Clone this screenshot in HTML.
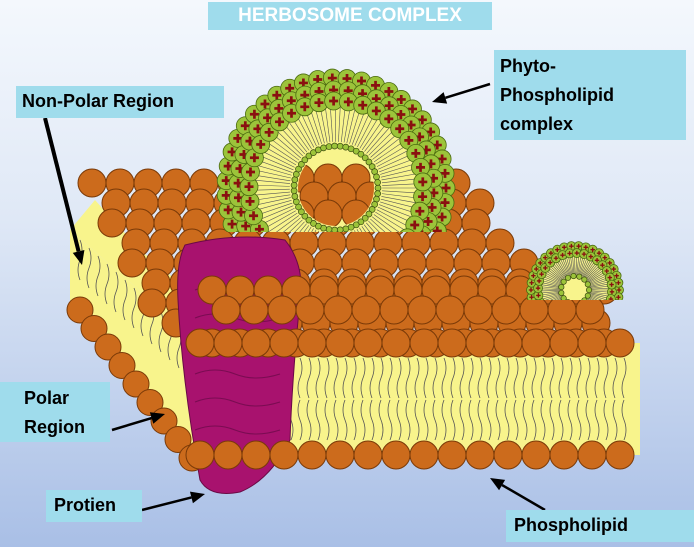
<!DOCTYPE html>
<html><head><meta charset="utf-8"><style>
html,body{margin:0;padding:0}
body{width:694px;height:547px;overflow:hidden;background:linear-gradient(#f4f8fd 0%,#dfe8f6 40%,#a9bfe6 100%);position:relative;font-family:"Liberation Sans",sans-serif}
.lab{position:absolute;background:#9fdcec;color:#000;font-weight:bold;font-size:18px;line-height:30px;padding-left:6px;box-sizing:border-box}
svg{position:absolute;left:0;top:0}
</style></head><body>
<svg id="s" width="694" height="547" viewBox="0 0 694 547"></svg>
<div class="lab" style="left:208px;top:2px;width:284px;height:28px;color:#fff;font-size:19px;line-height:28px;text-align:center;padding:0">HERBOSOME COMPLEX</div>
<div class="lab" style="left:16px;top:86px;width:208px;height:32px">Non-Polar Region</div>
<div class="lab" style="left:494px;top:50px;width:192px;height:90px;line-height:29px;padding-top:2px">Phyto-<br>Phospholipid<br>complex</div>
<div class="lab" style="left:0;top:382px;width:110px;height:60px;line-height:29px;padding-left:24px;padding-top:2px">Polar<br>Region</div>
<div class="lab" style="left:46px;top:490px;width:96px;height:32px;padding-left:8px">Protien</div>
<div class="lab" style="left:506px;top:510px;width:188px;height:32px;padding-left:8px">Phospholipid</div>
<script>
const s=document.getElementById('s');let h='';
const C=(x,y,r)=>h+=`<circle cx="${x}" cy="${y}" r="${r}" fill="#cc6b1c" stroke="#7a3a08" stroke-width="1"/>`;
h+='<polygon points="70,230 200,343 640,343 640,455 200,455 70,300" fill="#f8f48c"/>';
h+='<polygon points="70,230 95,200 140,250 200,300 200,343" fill="#f8f48c"/>';
for(let x=210;x<630;x+=9){h+=`<path d="M${x} 358 q4 10 0 20 q-4 10 0 20 M${x} 440 q4 -10 0 -20 q-4 -10 0 -20" stroke="#555" stroke-width="0.8" fill="none"/>`;}
for(let i=0;i<14;i++){let x=80+i*9,y=240+i*8;h+=`<path d="M${x} ${y} q4 10 0 20 q-4 10 0 20" stroke="#555" stroke-width="0.8" fill="none"/>`;}
for(let r=0;r<8;r++){let y=183+r*20;let x0=92+r*10+(r%2)*14,x1=470+r*14;
 if(r>=5)x1=560+(r-5)*20;
 for(let x=x0;x<=x1;x+=28)C(x,y,14);}
for(let i=0;i<9;i++)C(80+i*14,310+i*18.5,13);
h+='<path d="M185 245 Q235 232 285 240 Q305 265 300 300 Q292 380 290 440 Q270 480 240 492 Q210 498 200 480 Q182 380 178 300 Q176 262 185 245Z" fill="#a8126e" stroke="#6a0a45"/>';
for(let i=0;i<6;i++){let y=290+i*28;h+=`<path d="M195 ${y} q20 -8 40 0 q20 8 45 0" stroke="#7a0c52" fill="none"/>`}
for(let r=0;r<3;r++){let y=290+r*20+(r==2?13:0);for(let x=212+(r%2)*14;x<=610;x+=28)C(x,y,14);}
for(let x=200;x<=625;x+=28)C(x,343,14);
for(let x=200;x<=625;x+=28)C(x,455,14);
function ves(cx,cy,R,ri,sz,ls,clip){let g=`<g clip-path="url(#${clip})">`;
 g+=`<circle cx="${cx}" cy="${cy}" r="${R-sz}" fill="#f8f48c"/>`;
 for(let a=0;a<360;a+=3.5){let t=a*Math.PI/180;g+=`<line x1="${cx+Math.cos(t)*ri*1.1}" y1="${cy+Math.sin(t)*ri*1.1}" x2="${cx+Math.cos(t)*(R-sz*2)}" y2="${cy+Math.sin(t)*(R-sz*2)}" stroke="#555" stroke-width="0.6"/>`;}
 ls.forEach((rr,L)=>{let n=Math.floor(2*Math.PI*rr/(sz*1.6));for(let k=0;k<n;k++){let t=k/n*2*Math.PI+L*0.05;let x=cx+Math.cos(t)*rr,y=cy+Math.sin(t)*rr;g+=`<circle cx="${x}" cy="${y}" r="${sz}" fill="#9cc43a" stroke="#4a6a10" stroke-width="0.8"/><path d="M${x-sz*.5} ${y}h${sz}M${x} ${y-sz*.5}v${sz}" stroke="#8a1010" stroke-width="${sz*0.3}"/>`;}});
 let n2=Math.floor(2*Math.PI*ri/5.5);for(let k=0;k<n2;k++){let t=k/n2*2*Math.PI;g+=`<circle cx="${cx+Math.cos(t)*ri}" cy="${cy+Math.sin(t)*ri}" r="${Math.min(3,sz*0.6)}" fill="#9cc43a" stroke="#3a4a10" stroke-width="0.7"/>`;}
 return g+'</g>';}
h+='<defs><clipPath id="c1"><rect x="0" y="0" width="694" height="232"/></clipPath><clipPath id="c2"><rect x="0" y="0" width="694" height="300"/></clipPath><clipPath id="hole"><circle cx="336" cy="188" r="38"/></clipPath></defs>';
h+=ves(336,188,118,42,9,[110,98,87],'c1');
h+='<g clip-path="url(#hole)">';for(let r=0;r<3;r++)for(let x=300+(r%2)*14;x<380;x+=28){h+=`<circle cx="${x}" cy="${178+r*18}" r="14" fill="#cc6b1c" stroke="#7a3a08"/>`}h+='</g>';
h+=ves(575,290,48,14,4.5,[44,37],'c2');
function A(x1,y1,x2,y2,w){let a=Math.atan2(y2-y1,x2-x1),L=14,W=6;let bx=x2-Math.cos(a)*L,by=y2-Math.sin(a)*L;
 h+=`<line x1="${x1}" y1="${y1}" x2="${bx}" y2="${by}" stroke="#000" stroke-width="${w}"/><polygon points="${x2},${y2} ${bx-Math.sin(a)*W},${by+Math.cos(a)*W} ${bx+Math.sin(a)*W},${by-Math.cos(a)*W}" fill="#000"/>`;}
A(45,118,82,265,4);A(490,84,432,102,2.5);A(112,430,165,414,2.5);A(142,510,205,494,2.5);A(545,510,490,478,2.5);
s.innerHTML=h;
</script>
</body></html>
